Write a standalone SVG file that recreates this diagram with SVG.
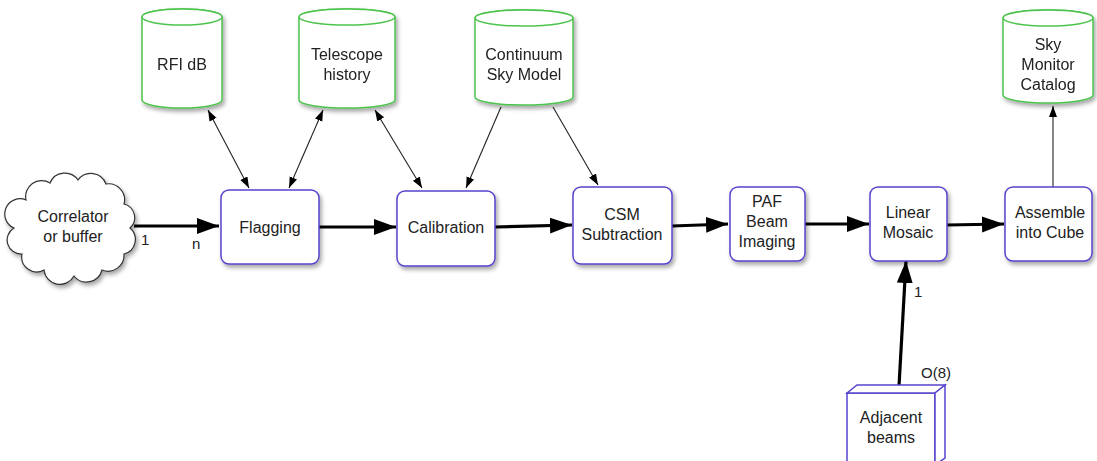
<svg xmlns="http://www.w3.org/2000/svg" width="1097" height="461" viewBox="0 0 1097 461">
<defs>
<filter id="sh" x="-20%" y="-20%" width="150%" height="150%">
<feDropShadow dx="2" dy="3" stdDeviation="2" flood-color="#000" flood-opacity="0.35"/>
</filter>
<marker id="big" markerUnits="userSpaceOnUse" markerWidth="24" markerHeight="18" refX="22" refY="8" orient="auto">
<path d="M0,0 L22,8 L0,16 z" fill="#000"/>
</marker>
<marker id="small" markerUnits="userSpaceOnUse" markerWidth="12" markerHeight="10" refX="11" refY="4" orient="auto-start-reverse">
<path d="M0,0 L11,4 L0,8 z" fill="#000"/>
</marker>
</defs>
<style>
.box{fill:#fff;stroke:#5544cc;stroke-width:1.5;filter:url(#sh)}
.cyl{fill:#fff;stroke:#4cc44c;stroke-width:1.5}
.cylg{filter:url(#sh)}
.cloud{fill:#fff;stroke:#333;stroke-width:1.2;filter:url(#sh)}
text{font-family:"Liberation Sans",Arial,sans-serif;font-size:16px;fill:#222;text-anchor:middle}
.lbl{text-anchor:start;font-size:15px}
.thick{stroke:#000;stroke-width:3.2;fill:none;marker-end:url(#big)}
.thin{stroke:#222;stroke-width:1.1;fill:none;marker-end:url(#small)}
.dbl{marker-start:url(#small)}
</style>
<rect width="1097" height="461" fill="#fff"/>

<g id="connectors">
<path class="thick" d="M134,226 L219,226"/>
<path class="thick" d="M319,227 L396,227"/>
<path class="thick" d="M495,227 L572,225"/>
<path class="thick" d="M672,226 L728,224"/>
<path class="thick" d="M804,224 L869,224"/>
<path class="thick" d="M947,225 L1004,224"/>
<path class="thick" d="M899,386 L906,261"/>
<path class="thin" d="M1053,187 L1053,106"/>
<path class="thin dbl" d="M208,110 L249,188"/>
<path class="thin dbl" d="M323,110 L289,188"/>
<path class="thin dbl" d="M375,110 L422,188"/>
<path class="thin" d="M501,107 L466,188"/>
<path class="thin" d="M553,107 L598,185"/>
<text class="lbl" x="141" y="245">1</text>
<text class="lbl" x="192" y="249">n</text>
<text class="lbl" x="914" y="297">1</text>
<text class="lbl" x="921" y="378">O(8)</text>
</g>

<g id="correlator">
<path class="cloud" d="M26,200 A16,16 0 0 1 50,183 A16,16 0 0 1 78,180 A16,16 0 0 1 106,184 A16,16 0 0 1 124,204 A14,14 0 0 1 130,228 A15,15 0 0 1 124,254 A16,16 0 0 1 102,270 A16,16 0 0 1 74,276 A16,16 0 0 1 44,270 A15,15 0 0 1 22,254 A14,14 0 0 1 14,228 A14,14 0 0 1 26,200 Z"/>
<text x="73" y="222">Correlator</text>
<text x="73" y="242">or buffer</text>
</g>

<g id="flagging">
<rect class="box" x="221" y="190" width="98" height="74" rx="8"/>
<text x="270" y="233">Flagging</text>
</g>
<g id="calibration">
<rect class="box" x="397" y="191" width="98" height="75" rx="8"/>
<text x="446" y="233">Calibration</text>
</g>
<g id="csm">
<rect class="box" x="573" y="187" width="99" height="77" rx="8"/>
<text x="622" y="220">CSM</text>
<text x="622" y="240">Subtraction</text>
</g>
<g id="paf">
<rect class="box" x="730" y="187" width="75" height="74" rx="8"/>
<text x="767" y="207">PAF</text>
<text x="767" y="227">Beam</text>
<text x="767" y="247">Imaging</text>
</g>
<g id="mosaic">
<rect class="box" x="870" y="187" width="77" height="74" rx="8"/>
<text x="908" y="218">Linear</text>
<text x="908" y="238">Mosaic</text>
</g>
<g id="assemble">
<rect class="box" x="1005" y="187" width="87" height="74" rx="8"/>
<text x="1050" y="218">Assemble</text>
<text x="1050" y="238">into Cube</text>
</g>

<g id="rfidb" class="cylg">
<path class="cyl" d="M142,17 L142,100 A40,8 0 0 0 222,100 L222,17 A40,8 0 0 0 142,17 Z"/>
<ellipse class="cyl" cx="182" cy="17" rx="40" ry="8"/>
<text x="182" y="70">RFI dB</text>
</g>
<g id="telescope" class="cylg">
<path class="cyl" d="M299,17 L299,100 A48,8 0 0 0 395,100 L395,17 A48,8 0 0 0 299,17 Z"/>
<ellipse class="cyl" cx="347" cy="17" rx="48" ry="8"/>
<text x="347" y="60">Telescope</text>
<text x="347" y="80">history</text>
</g>
<g id="continuum" class="cylg">
<path class="cyl" d="M475,18 L475,97 A49,8 0 0 0 573,97 L573,18 A49,8 0 0 0 475,18 Z"/>
<ellipse class="cyl" cx="524" cy="18" rx="49" ry="8"/>
<text x="524" y="60">Continuum</text>
<text x="524" y="80">Sky Model</text>
</g>
<g id="skymonitor" class="cylg">
<path class="cyl" d="M1003,18 L1003,95 A45,8 0 0 0 1093,95 L1093,18 A45,8 0 0 0 1003,18 Z"/>
<ellipse class="cyl" cx="1048" cy="18" rx="45" ry="8"/>
<text x="1048" y="50">Sky</text>
<text x="1048" y="70">Monitor</text>
<text x="1048" y="90">Catalog</text>
</g>

<g id="adjacent">
<rect x="847" y="393" width="88" height="72" fill="#fff" stroke="#5544cc" stroke-width="1.5"/>
<polygon points="847,393 857,385 945,385 935,393" fill="#fff" stroke="#5544cc" stroke-width="1.5"/>
<polygon points="935,393 945,385 945,458 935,465" fill="#fff" stroke="#5544cc" stroke-width="1.5"/>
<text x="891" y="423">Adjacent</text>
<text x="891" y="443">beams</text>
</g>
</svg>
